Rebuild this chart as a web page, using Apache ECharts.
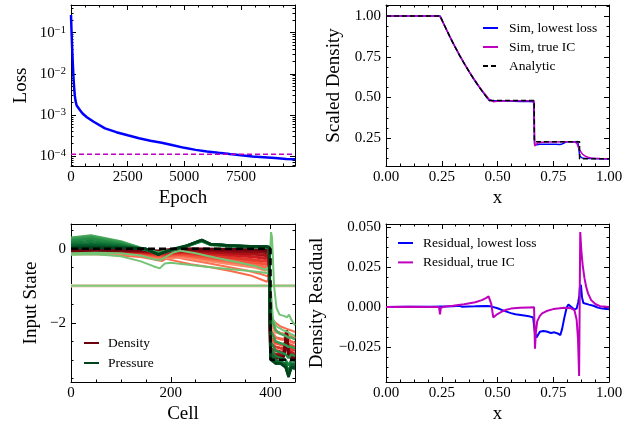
<!DOCTYPE html>
<html><head><meta charset="utf-8">
<script src="https://cdn.jsdelivr.net/npm/echarts@6/dist/echarts.min.js"></script>
<style>html,body{margin:0;padding:0;background:#fff}#c{width:635px;height:422px}</style>
</head><body><div id="c"></div>
<script>
// ---------------- DATA ----------------
// Top-left: training loss
const lossEpochs = [0,20,50,80,110,140,170,200,250,300,400,500,700,1000,1500,2000,2500,3000,3500,4000,4500,5000,5500,6000,6500,7000,7500,8000,8500,9000,9500,9880];
const lossValues = [0.27,0.12,0.045,0.018,0.008,0.0045,0.0029,0.0022,0.0017,0.00155,0.0013,0.0011,0.00088,0.00068,0.00047,0.00038,0.00032,0.00027,0.000235,0.00021,0.000182,0.000158,0.000141,0.000129,0.00012,0.000112,0.000105,0.0000977,0.0000933,0.0000891,0.0000851,0.0000832];
const lossTrueIC = 1.1e-4;
const epochTicks = [0,2500,5000,7500];
const lossTickExps = [-4,-3,-2,-1];

// Top-right: scaled density
const analyticX = [0,0.243,0.265,0.287,0.309,0.331,0.353,0.375,0.397,0.419,0.441,0.463,0.665,0.665,0.868,0.868,1];
const analyticY = [1,1,0.934,0.871,0.812,0.756,0.703,0.653,0.606,0.562,0.521,0.481,0.481,0.229,0.229,0.125,0.125];
const simLowX = [0,0.243,0.265,0.287,0.309,0.331,0.353,0.375,0.397,0.419,0.441,0.463,0.5,0.55,0.6,0.64,0.662,0.666,0.675,0.69,0.72,0.74,0.76,0.78,0.79,0.8,0.81,0.818,0.83,0.845,0.86,0.866,0.869,0.874,0.88,0.89,0.92,0.96,1];
const simLowY = [1,1,0.934,0.871,0.812,0.756,0.703,0.653,0.606,0.562,0.521,0.4814,0.4803,0.4786,0.4762,0.4752,0.4744,0.2135,0.210,0.2135,0.2137,0.2128,0.2132,0.2115,0.2155,0.2225,0.2285,0.2305,0.2292,0.2275,0.231,0.236,0.14,0.1388,0.129,0.1272,0.1265,0.1246,0.1236];
const simTrueX = [0,0.24,0.243,0.265,0.287,0.309,0.331,0.353,0.375,0.397,0.419,0.441,0.463,0.472,0.481,0.5,0.53,0.56,0.6,0.664,0.667,0.672,0.68,0.7,0.72,0.75,0.8,0.83,0.845,0.855,0.861,0.866,0.871,0.876,0.882,0.89,0.897,0.906,0.92,0.94,0.96,1];
const simTrueY = [1,1,0.9954,0.9342,0.8715,0.813,0.7574,0.7048,0.6552,0.6087,0.5654,0.5257,0.4882,0.483,0.4745,0.4766,0.4785,0.48,0.4805,0.4808,0.203,0.213,0.221,0.225,0.2265,0.2277,0.2285,0.2282,0.227,0.221,0.209,0.186,0.1718,0.160,0.151,0.143,0.138,0.1335,0.1293,0.1267,0.1255,0.125];
const xTicks01 = [0,0.25,0.5,0.75,1];
const densTicks = [0.25,0.5,0.75,1.0];

// Bottom-right: density residuals
const resLowX = [0,0.1,0.2,0.25,0.3,0.33,0.34,0.4,0.45,0.47,0.5,0.53,0.56,0.58,0.62,0.64,0.66,0.664,0.667,0.675,0.69,0.705,0.72,0.74,0.755,0.77,0.782,0.79,0.8,0.81,0.818,0.83,0.845,0.855,0.862,0.867,0.869,0.874,0.879,0.885,0.91,0.93,0.95,0.97,1.0];
const resLowY = [0,0.0002,0.0001,0.0003,0.0004,0.0008,0.0002,0.0004,0.0006,0.0004,-0.0008,-0.0024,-0.0038,-0.0045,-0.0053,-0.0057,-0.0065,-0.0068,-0.0155,-0.019,-0.0155,-0.015,-0.0153,-0.0162,-0.0158,-0.0165,-0.0175,-0.0135,-0.0065,-0.0005,0.0015,0.0002,-0.0015,-0.001,0.003,0.007,0.012,0.0138,0.006,0.0025,0.0015,0.0008,-0.0004,-0.001,-0.0014];
const resTrueX = [0,0.1,0.2,0.238,0.242,0.246,0.26,0.3,0.35,0.4,0.43,0.45,0.46,0.466,0.472,0.481,0.49,0.5,0.52,0.54,0.56,0.6,0.64,0.664,0.668,0.672,0.678,0.69,0.7,0.72,0.75,0.8,0.83,0.845,0.855,0.861,0.866,0.871,0.876,0.882,0.89,0.897,0.906,0.92,0.94,0.96,1.0];
const resTrueY = [0,0.0001,0,0,-0.0046,-0.0005,0.0001,0.0008,0.0017,0.003,0.0043,0.0057,0.0066,0.0076,0.002,-0.0065,-0.0055,-0.0044,-0.0028,-0.0017,-0.001,-0.0005,-0.0003,-0.0002,-0.026,-0.016,-0.009,-0.0055,-0.004,-0.0025,-0.0013,-0.0005,-0.0008,-0.002,-0.008,-0.02,-0.043,0.0468,0.035,0.026,0.018,0.013,0.0085,0.0043,0.0017,0.0005,0];
const resTicks = [-0.025,0,0.025,0.05];

// Bottom-left: input state evolution (density = reds, pressure = greens)
const cellTicks = [0,200,400];
const stateTicks = [-2,0];
const initCells = [0,449];
const initState = [-1,-1];
const earlyDensity = [
  [[0,-0.15],[50,-0.15],[100,-0.18],[140,-0.22],[170,-0.3],[183,-0.33],[190,-0.27],[200,-0.3],[240,-0.42],[280,-0.5],[320,-0.6],[360,-0.72],[385,-0.85],[393,-0.89],[397,-0.8],[400,-1.6],[404,-1.9],[410,-2.0],[420,-2.1],[430,-2.15],[440,-2.2],[449,-2.25]],
  [[0,-0.11],[50,-0.11],[100,-0.13],[140,-0.18],[170,-0.26],[183,-0.29],[190,-0.22],[200,-0.2],[230,-0.28],[270,-0.38],[310,-0.48],[350,-0.58],[380,-0.68],[393,-0.74],[397,-0.68],[400,-1.8],[405,-2.1],[415,-2.25],[425,-2.3],[435,-2.3],[449,-2.4]]
];
const fanCells = [0,100,140,175,200,220,300,370,390,397,400,410,425,428,432,436,440,449];
const fanDensity = [
  [-0.12,-0.13,-0.17,-0.25,-0.24,-0.22,-0.37,-0.5,-0.58,-0.52,-2.0,-2.25,-2.3,-2.3,-2.3,-2.32,-2.35,-2.42],
  [-0.1,-0.11,-0.15,-0.22,-0.2,-0.18,-0.32,-0.44,-0.5,-0.45,-2.2,-2.4,-2.45,-2.42,-2.4,-2.45,-2.5,-2.55],
  [-0.09,-0.1,-0.13,-0.19,-0.17,-0.15,-0.27,-0.37,-0.42,-0.38,-2.4,-2.55,-2.6,-2.55,-2.5,-2.58,-2.6,-2.65],
  [-0.08,-0.08,-0.11,-0.16,-0.13,-0.11,-0.21,-0.3,-0.34,-0.3,-2.55,-2.65,-2.7,-2.65,-2.55,-2.68,-2.7,-2.75],
  [-0.07,-0.07,-0.09,-0.13,-0.1,-0.08,-0.15,-0.22,-0.26,-0.22,-2.7,-2.75,-2.8,-2.7,-2.45,-2.75,-2.8,-2.85],
  [-0.06,-0.06,-0.07,-0.1,-0.07,-0.05,-0.1,-0.15,-0.18,-0.15,-2.8,-2.85,-2.85,-2.75,-2.35,-2.8,-2.85,-2.9],
  [-0.05,-0.05,-0.05,-0.08,-0.04,-0.02,-0.05,-0.08,-0.1,-0.08,-2.85,-2.9,-2.9,-2.8,-2.25,-2.85,-2.9,-2.95],
  [-0.04,-0.03,-0.03,-0.06,-0.02,0.0,-0.01,-0.02,-0.03,-0.02,-2.9,-2.95,-2.95,-2.8,-2.2,-2.9,-2.95,-3.0]
];
const earlyPressure = [
  [[0,-0.12],[50,-0.11],[100,-0.12],[140,-0.18],[168,-0.29],[180,-0.3],[190,-0.22],[205,-0.1],[220,-0.05],[250,-0.12],[290,-0.24],[330,-0.35],[370,-0.47],[390,-0.57],[396,-0.5],[399,-0.2],[401,0.45],[403,0.3],[407,-1.0],[412,-1.6],[418,-1.78],[428,-1.82],[433,-1.85],[437,-1.78],[441,-1.9],[449,-2.07]],
  [[0,-0.16],[50,-0.15],[100,-0.2],[140,-0.34],[165,-0.47],[178,-0.53],[188,-0.4],[200,-0.38],[240,-0.44],[280,-0.5],[320,-0.55],[360,-0.6],[385,-0.64],[394,-0.66],[398,-0.4],[401,-1.2],[405,-1.9],[412,-2.1],[425,-2.2],[435,-2.25],[440,-2.3],[449,-2.35]]
];
const bandCells = [0,40,100,150,175,200,230,262,280,320,360,392,397,400,410,420,430,436,442,449];
const bandPressure = [
  [0.3,0.36,0.2,-0.02,-0.1,-0.03,0.05,0.2,0.1,0.06,0.04,0.03,0.0,-1.8,-2.2,-2.3,-2.35,-2.4,-2.4,-2.45],
  [0.26,0.32,0.17,-0.03,-0.12,-0.04,0.05,0.21,0.11,0.07,0.05,0.04,0.0,-2.2,-2.5,-2.55,-2.6,-2.65,-2.65,-2.7],
  [0.22,0.27,0.14,-0.03,-0.13,-0.04,0.06,0.22,0.12,0.08,0.05,0.04,0.01,-2.5,-2.75,-2.8,-2.85,-2.95,-2.85,-2.9],
  [0.17,0.21,0.11,-0.02,-0.14,-0.04,0.06,0.22,0.12,0.08,0.06,0.05,0.02,-2.7,-2.9,-2.95,-3.0,-3.15,-3.0,-3.05],
  [0.12,0.15,0.08,-0.01,-0.15,-0.04,0.07,0.23,0.12,0.08,0.06,0.05,0.03,-2.85,-3.0,-3.05,-3.1,-3.3,-3.1,-3.1],
  [0.08,0.1,0.05,0.0,-0.15,-0.03,0.07,0.23,0.12,0.09,0.06,0.05,0.04,-2.9,-3.05,-3.1,-3.15,-3.38,-3.15,-3.15],
  [0.05,0.06,0.03,0.0,-0.16,-0.03,0.07,0.24,0.12,0.09,0.07,0.06,0.05,-2.95,-3.1,-3.1,-3.2,-3.43,-3.2,-3.2],
  [0.02,0.03,0.02,0.0,-0.16,-0.02,0.08,0.24,0.13,0.09,0.07,0.06,0.05,-3.0,-3.1,-3.1,-3.2,-3.47,-3.2,-3.25]
];
const trueICCells = [0,400,400,449];
const trueICState = [0,0,-3.0,-3.0];

// ---------------- STYLE ----------------
const FONT = '"Liberation Serif","Times New Roman",serif';
const earlyRedColors = ['#fb6a4a','#fb7050'];
const fanRedColors = ['#fb8a68','#f86d50','#f2513a','#e2372a','#cb1d1f','#ad1117','#8a0a12','#6d010e'];
const earlyGreenColors = ['#74c476','#74c476'];
const bandGreenColors = ['#4aa85c','#359a50','#238b45','#197f3d','#0e7035','#06622e','#035326','#00441b'];

const minus = s => String(s).replace('-', '\u2212');
const zip = (xs, ys) => xs.map((x, i) => [x, ys[i]]);

function stepTicks(min, max, step, majors) {
  const out = [];
  for (let i = Math.ceil(min / step - 1e-9); i * step <= max + 1e-9; i++) {
    const v = +(i * step).toFixed(10);
    if (!majors.some(m => Math.abs(m - v) < step * 1e-3)) out.push(v);
  }
  return out;
}

function makeAxes(dim, gi, range, majors, minors, fmt, name, nameGap, labelExtra) {
  const sides = dim === 'x' ? ['bottom', 'top'] : ['left', 'right'];
  const base = { type: 'value', gridIndex: gi, min: range[0], max: range[1], splitLine: { show: false },
    splitArea: { show: false }, silent: true, nameMoveOverlap: false };
  const line = { show: true, onZero: false, lineStyle: { color: '#000', width: 1 } };
  const noLine = { show: false, onZero: false };
  const tick = (vals, len) => ({ show: true, inside: true, length: len, customValues: vals, lineStyle: { color: '#000', width: 1 } });
  return [
    Object.assign({}, base, { position: sides[0], axisLine: line, axisTick: tick(majors, 5),
      axisLabel: Object.assign({ show: true, customValues: majors, formatter: fmt, margin: dim === 'x' ? 4 : 5,
        color: '#000', fontFamily: FONT, fontSize: 15 }, labelExtra || {}),
      name: name, nameLocation: 'middle', nameGap: nameGap,
      nameTextStyle: { fontFamily: FONT, fontSize: 19, color: '#000' } }),
    Object.assign({}, base, { position: sides[0], axisLine: noLine, axisTick: tick(minors, 2.5), axisLabel: { show: false } }),
    Object.assign({}, base, { position: sides[1], axisLine: line, axisTick: tick(majors, 5), axisLabel: { show: false } }),
    Object.assign({}, base, { position: sides[1], axisLine: noLine, axisTick: tick(minors, 2.5), axisLabel: { show: false } })
  ];
}

function ser(name, gi, data, color, width, dash) {
  return { type: 'line', name: name, xAxisIndex: gi * 4, yAxisIndex: gi * 4, data: data,
    showSymbol: false, symbol: 'none', lineStyle: { color: color, width: width, type: dash || 'solid' },
    itemStyle: { color: color }, emphasis: { disabled: true }, silent: true, animation: false };
}

// ranges
const tlX = [0, 9880], tlY = [-4.243, -0.326];
const trX = [0, 1], trY = [0.080, 1.0675];
const blX = [0, 449], blY = [-3.60, 0.67];
const brX = [0, 1], brY = [-0.0468, 0.0518];

const logMinor = [];
for (let n = -5; n <= 0; n++) for (let k = 2; k <= 9; k++) {
  const v = n + Math.log10(k);
  if (v > tlY[0] && v < tlY[1]) logMinor.push(v);
}

const xAxes = [].concat(
  makeAxes('x', 0, tlX, epochTicks, stepTicks(tlX[0], tlX[1], 625, epochTicks), v => String(v), 'Epoch', 23),
  makeAxes('x', 1, trX, xTicks01, stepTicks(0, 1, 0.0625, xTicks01), v => v.toFixed(2), 'x', 23),
  makeAxes('x', 2, blX, cellTicks, stepTicks(blX[0], blX[1], 50, cellTicks), v => String(v), 'Cell', 23),
  makeAxes('x', 3, brX, xTicks01, stepTicks(0, 1, 0.0625, xTicks01), v => v.toFixed(2), 'x', 23)
);
const yAxes = [].concat(
  makeAxes('y', 0, tlY, lossTickExps, logMinor, v => '{b|10}{s|\u2212' + Math.round(-v) + '}', 'Loss', 40,
    { rich: { b: { fontSize: 15, fontFamily: FONT, color: '#000' },
              s: { fontSize: 10.5, fontFamily: FONT, color: '#000', padding: [0, 0, 5, 0] } } }),
  makeAxes('y', 1, trY, densTicks, stepTicks(trY[0], trY[1], 0.0625, densTicks), v => v.toFixed(2), 'Scaled Density', 42),
  makeAxes('y', 2, blY, stateTicks, stepTicks(blY[0], blY[1], 0.5, stateTicks), v => minus(v), 'Input State', 30),
  makeAxes('y', 3, brY, resTicks, stepTicks(brY[0], brY[1], 0.00625, resTicks), v => minus(v.toFixed(3)), 'Density Residual', 59)
);

const series = [];
// TL
series.push(ser('loss', 0, lossEpochs.map((e, i) => [e, Math.log10(lossValues[i])]), '#0000ff', 2.5));
series.push(ser('loss true IC', 0, [[tlX[0], Math.log10(lossTrueIC)], [tlX[1], Math.log10(lossTrueIC)]], '#bf00bf', 1.5, [5, 3]));
// TR
series.push(ser('Sim, lowest loss', 1, zip(simLowX, simLowY), '#0000ff', 1.5));
series.push(ser('Sim, true IC', 1, zip(simTrueX, simTrueY), '#bf00bf', 1.5));
series.push(ser('Analytic', 1, zip(analyticX, analyticY), '#000000', 1.5, [5, 3]));
// BL
series.push(ser('dens init', 2, zip(initCells, initState), '#f2d4bf', 3.5));
earlyDensity.forEach((d, i) => series.push(ser('dens early ' + i, 2, d, earlyRedColors[i], 2)));
fanDensity.forEach((vals, i) => series.push(ser(i === fanDensity.length - 1 ? 'Density' : 'dens fan ' + i, 2,
  zip(fanCells, vals), fanRedColors[i], 3)));
series.push(ser('pres init', 2, zip(initCells, initState), '#80c77b', 2));
earlyPressure.forEach((d, i) => series.push(ser('pres early ' + i, 2, d, earlyGreenColors[i], 2)));
bandPressure.forEach((vals, i) => series.push(ser(i === bandPressure.length - 1 ? 'Pressure' : 'pres band ' + i, 2,
  zip(bandCells, vals), bandGreenColors[i], 2.5)));
series.push(ser('true IC', 2, zip(trueICCells, trueICState), '#000000', 2.5, [7, 4]));
// BR
series.push(ser('Residual, lowest loss', 3, zip(resLowX, resLowY), '#0000ff', 2));
series.push(ser('Residual, true IC', 3, zip(resTrueX, resTrueY), '#bf00bf', 2));

const legendBase = { orient: 'vertical', itemWidth: 15, itemHeight: 14, selectedMode: false, padding: 0,
  itemStyle: { opacity: 0 },
  textStyle: { fontFamily: FONT, fontSize: 13.5, color: '#000' } };
const legends = [
  Object.assign({}, legendBase, { data: ['Sim, lowest loss', 'Sim, true IC', 'Analytic'], left: 482, top: 21, itemGap: 5,
    textStyle: Object.assign({}, legendBase.textStyle, { padding: [0, 0, 0, 6] }) }),
  Object.assign({}, legendBase, { data: ['Density', 'Pressure'], left: 83, top: 336, itemGap: 6,
    textStyle: Object.assign({}, legendBase.textStyle, { padding: [0, 0, 0, 4] }) }),
  Object.assign({}, legendBase, { data: ['Residual, lowest loss', 'Residual, true IC'], left: 397, top: 236, itemGap: 5.4,
    textStyle: Object.assign({}, legendBase.textStyle, { padding: [0, 0, 0, 5] }) })
];

const chart = echarts.init(document.getElementById('c'), null, { renderer: 'canvas' });
chart.setOption({
  animation: false,
  backgroundColor: '#ffffff',
  textStyle: { fontFamily: FONT },
  grid: [
    { left: 71, top: 5, width: 224, height: 161, containLabel: false, outerBoundsMode: 'none' },
    { left: 386, top: 5, width: 223, height: 161, containLabel: false, outerBoundsMode: 'none' },
    { left: 71, top: 224, width: 224, height: 158, containLabel: false, outerBoundsMode: 'none' },
    { left: 386, top: 224, width: 223, height: 158, containLabel: false, outerBoundsMode: 'none' }
  ],
  xAxis: xAxes,
  yAxis: yAxes,
  legend: legends,
  tooltip: { show: false },
  series: series
});
</script>
</body></html>
